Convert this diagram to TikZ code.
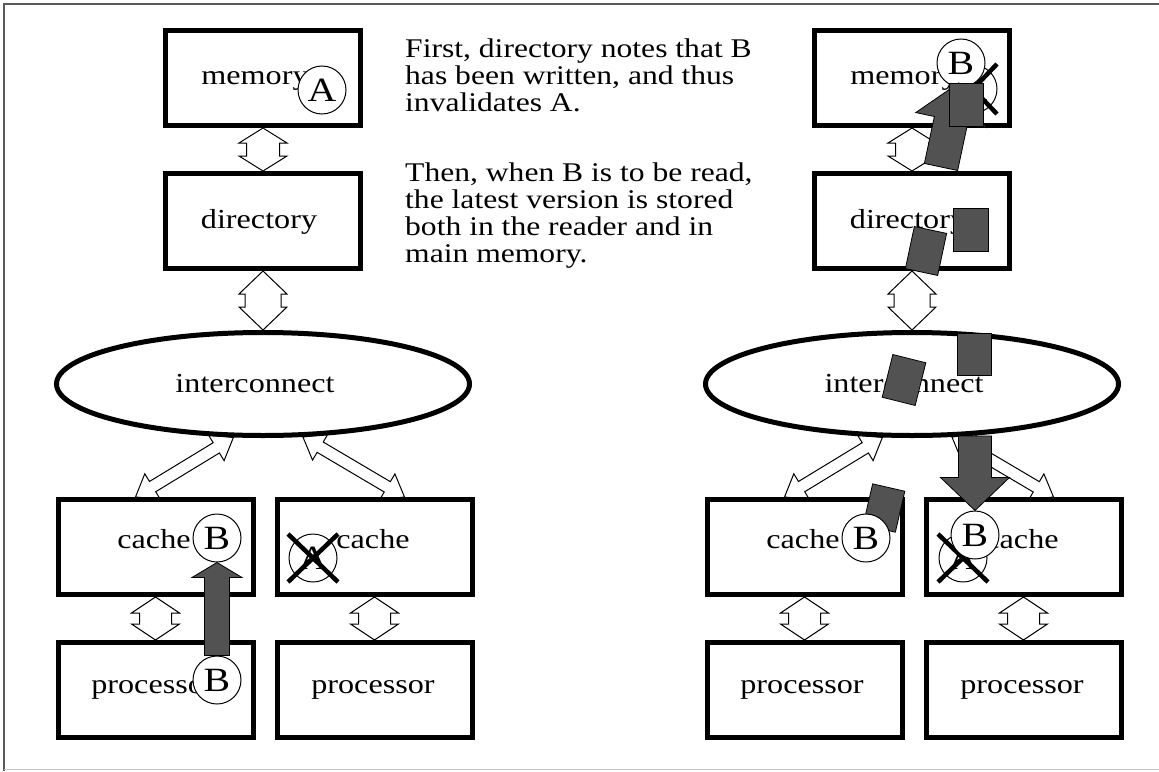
\documentclass[tikz,border=0pt]{standalone}
\usepackage{fontspec}
\setmainfont{Liberation Serif}[FakeStretch=1.17]
\usetikzlibrary{shapes.geometric,calc}
\pgfdeclarelayer{back}
\pgfsetlayers{back,main}
\definecolor{blockgray}{gray}{0.32}
\definecolor{framegray}{gray}{0.35}

% outlined double-headed link between two named points:
% #1,#2 ends, #3 head length, #4 head half width, #5 shaft half width
\newcommand\fatlink[5]{%
  \coordinate (fl-a) at ($(#1)!#3!(#2)$);
  \coordinate (fl-b) at ($(#2)!#3!(#1)$);
  \path[fatline] (#1) -- ($(fl-a)!#4!90:(#2)$) -- ($(fl-a)!#5!90:(#2)$)
    -- ($(fl-b)!#5!-90:(#1)$) -- ($(fl-b)!#4!-90:(#1)$) -- (#2)
    -- ($(fl-b)!#4!90:(#1)$) -- ($(fl-b)!#5!90:(#1)$)
    -- ($(fl-a)!#5!-90:(#2)$) -- ($(fl-a)!#4!-90:(#2)$) -- cycle;}

% solid grey block arrow from #1 (tail) to #2 (tip)
\newcommand\blockarrow[5]{%
  \coordinate (ba-h) at ($(#2)!#3!(#1)$);
  \path[block] ($(#1)!#5!90:(#2)$) -- ($(ba-h)!#5!-90:(#1)$)
    -- ($(ba-h)!#4!-90:(#1)$) -- (#2) -- ($(ba-h)!#4!90:(#1)$)
    -- ($(ba-h)!#5!90:(#1)$) -- ($(#1)!#5!-90:(#2)$) -- cycle;}

\begin{document}
\begin{tikzpicture}[x=1pt,y=-1pt,
  unit/.style={draw, line width=5pt, fill=white, minimum width=195pt,
    minimum height=95pt, inner sep=0pt},
  bus/.style={ellipse, draw, line width=5pt, fill=white,
    minimum width=413pt, minimum height=103pt, inner sep=0pt},
  lbl/.style={font=\fontsize{27.5}{27}\selectfont, inner sep=0pt, anchor=base},
  tag/.style={circle, draw, line width=1pt, fill=white, minimum size=48pt,
    inner sep=0pt, font=\fontsize{34}{34}\selectfont},
  fatline/.style={draw, line width=1pt, fill=white, line join=miter},
  block/.style={draw, line width=0.8pt, fill=blockgray},
  cross/.style={line width=4.5pt},
  note/.style={font=\fontsize{27}{27}\selectfont, align=left,
    anchor=north west, inner sep=0pt}]
\useasboundingbox (0,0) rectangle (1159,771);

% page frame
\draw[framegray, line width=2pt] (4,771) -- (4,4) -- (1159,4);
\draw[gray!45, line width=1pt] (4,769.5) -- (1159,769.5);

% the two copies of the machine
\foreach \s/\cx in {L/263,R/912}{
  \node[unit] (\s mem) at (\cx,78) {};
  \node[unit] (\s dir) at (\cx,221) {};
  \node[bus]  (\s bus) at (\cx,384) {};
  \node[unit] (\s c1) at (\cx-107.5,547) {};
  \node[unit] (\s c2) at (\cx+111.5,547) {};
  \node[unit] (\s p1) at (\cx-107.5,690) {};
  \node[unit] (\s p2) at (\cx+111.5,690) {};
  \node[lbl] (\s memt) at (\cx-8,84) {memory};
  \node[lbl] (\s dirt) at (\cx-4,228) {directory};
  \node[lbl] (\s bust) at (\cx-8,392) {interconnect};
  \node[lbl] (\s c1t) at (\cx-109,548) {cache};
  \node[lbl] (\s c2t) at (\cx+110,548) {cache};
  \node[lbl] (\s p1t) at (\cx-110,693) {processor};
  \node[lbl] (\s p2t) at (\cx+110,693) {processor};
  \coordinate (\s d1) at ($(\s c1.north)+(-20,0)$);
  \coordinate (\s d2) at ($(\s c2.north)+(30,0)$);
  \begin{pgfonlayer}{back}
    \fatlink{\s mem.south}{\s dir.north}{15pt}{24pt}{16.5pt}
    \fatlink{\s dir.south}{\s bus.north}{23pt}{24pt}{18pt}
    \fatlink{\s c1.south}{\s p1.north}{16pt}{24pt}{16pt}
    \fatlink{\s c2.south}{\s p2.north}{16pt}{24pt}{16pt}
    \fatlink{\s bus.-119}{\s d1}{20pt}{15pt}{6pt}
    \fatlink{\s bus.-53}{\s d2}{20pt}{15pt}{6pt}
  \end{pgfonlayer}
}

% explanation
\node[note] (txt1) at (405,39) {First, directory notes that B\\has been written, and thus\\invalidates A.};
\node[note] (txt2) at (405,163) {Then, when B is to be read,\\the latest version is stored\\both in the reader and in\\main memory.};

% left: the write of B
\node[tag] (LmA) at (322,90) {A};
\node[tag] (LcB) at (217,538) {B};
\node[tag] (LpB) at (217,680) {B};
\node[tag] (LxA) at (313,558) {A};
\draw[cross] ($(LxA)+(-25,-24)$) -- ($(LxA)+(25,24)$)
             ($(LxA)+(-25,24)$) -- ($(LxA)+(25,-24)$);
\blockarrow{LpB.north}{LcB.south}{15pt}{25pt}{12.5pt}

% right: the read of B
\node[tag] (RmA) at (973,89) {A};
\draw[cross] ($(RmA)+(-24,-25)$) -- ($(RmA)+(24,25)$)
             ($(RmA)+(-24,25)$) -- ($(RmA)+(24,-25)$);
\node[tag] (RmB) at (961,63) {B};
\node[tag] (RxA) at (963,558) {A};
\draw[cross] ($(RxA)+(-25,-24)$) -- ($(RxA)+(25,24)$)
             ($(RxA)+(-25,24)$) -- ($(RxA)+(25,-24)$);
\node[tag] (RxB) at (975,535) {B};

\begin{scope}[shift={(941,167)}, rotate=-12]
  \path[block] (-17,0) -- (-17,-48) -- (-36,-48) -- (0,-86) -- (36,-48)
    -- (17,-48) -- (17,0) -- cycle;
\end{scope}
\node[block, minimum width=34pt, minimum height=43pt, inner sep=0pt] (sq1) at (966,104.5) {};
\node[block, minimum width=35pt, minimum height=43pt, inner sep=0pt] (sq2) at (970.5,229.5) {};
\node[block, minimum width=33pt, minimum height=43pt, inner sep=0pt, rotate=-12] (sq3) at (926,251) {};
\node[block, minimum width=34pt, minimum height=44pt, inner sep=0pt, rotate=-14] (sq4) at (904,380) {};
\node[block, minimum width=34pt, minimum height=42pt, inner sep=0pt] (sq5) at (974,354) {};
\node[block, minimum width=33pt, minimum height=42pt, inner sep=0pt, rotate=-13] (sq6) at (884,508) {};
\coordinate (dnTail) at (975,436);
\blockarrow{dnTail}{RxB.north}{33pt}{34.5pt}{16.5pt}
\node[tag] (RcB) at (866,538) {B};
\end{tikzpicture}
\end{document}
